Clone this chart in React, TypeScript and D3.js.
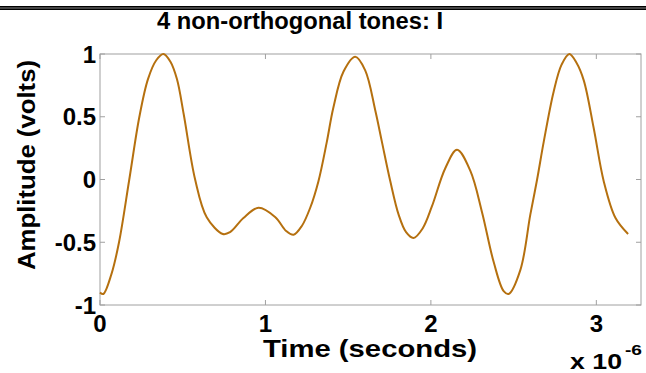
import { useEffect, useRef } from "react";
import * as d3 from "d3";

// time in microseconds, amplitude in volts
const TIME = [
    0, 0.02, 0.07, 0.115, 0.177, 0.238, 0.29, 0.34, 0.383, 0.425, 0.465, 0.506, 0.575, 0.645,
    0.742, 0.786, 0.867, 0.958, 1.06, 1.125, 1.17, 1.22, 1.27, 1.32, 1.371, 1.41, 1.472,
    1.543, 1.603, 1.664, 1.704, 1.754, 1.805, 1.85, 1.895, 1.95, 2.006, 2.087, 2.158,
    2.238, 2.309, 2.38, 2.44, 2.47, 2.541, 2.601, 2.642, 2.682, 2.742, 2.79, 2.837,
    2.88, 2.924, 2.984, 3.045, 3.116, 3.192,
];
const AMPLITUDE = [
    -0.9, -0.912, -0.75, -0.5, 0, 0.5, 0.8, 0.95, 1.0, 0.94, 0.8, 0.52, 0, -0.3,
    -0.434, -0.42, -0.307, -0.225, -0.3, -0.41, -0.44, -0.37, -0.227, -0.015, 0.3, 0.57, 0.86,
    0.978, 0.87, 0.55, 0.3, -0.01, -0.28, -0.42, -0.466, -0.39, -0.215, 0.09, 0.237,
    0.07, -0.26, -0.66, -0.89, -0.912, -0.72, -0.28, 0, 0.3, 0.7, 0.915, 1.0,
    0.93, 0.79, 0.41, -0.015, -0.307, -0.434,
];
const X_TICKS = [0, 1, 2, 3];
const Y_TICKS = [-1, -0.5, 0, 0.5, 1];

const W = 646;
const H = 373;
const FONT = "'Liberation Sans', Arial, Helvetica, sans-serif";

export default function App ()
{
    const svgRef = useRef<SVGSVGElement>( null );

    useEffect( () =>
    {
        if ( !svgRef.current ) return;
        const svg = d3.select( svgRef.current );
        svg.selectAll( "*" ).remove();

        const m = { top: 54, right: 5, bottom: 68, left: 100 };
        const w = W - m.left - m.right;
        const h = H - m.top - m.bottom;

        svg.append( "rect" ).attr( "width", W ).attr( "height", H ).attr( "fill", "#fff" );

        // Frame line at the very top
        svg.append( "line" ).attr( "x1", 0 ).attr( "x2", W ).attr( "y1", 8 ).attr( "y2", 8 )
            .attr( "stroke", "#000" ).attr( "stroke-width", 4 );
        svg.append( "line" ).attr( "x1", 0 ).attr( "x2", W ).attr( "y1", 8 ).attr( "y2", 8 )
            .attr( "stroke", "#888" ).attr( "stroke-width", 1 );

        const g = svg.append( "g" ).attr( "transform", `translate(${ m.left },${ m.top })` );

        const x = d3.scaleLinear().domain( [ 0, 3.27 ] ).range( [ 0, w ] );
        const y = d3.scaleLinear().domain( [ -1, 1 ] ).range( [ h, 0 ] );

        // Box
        g.append( "rect" ).attr( "width", w ).attr( "height", h ).attr( "fill", "none" )
            .attr( "stroke", "#a0a0a0" ).attr( "stroke-width", 1 );

        // Tick marks (inside, mirrored)
        const tk = 5;
        g.selectAll( ".xt" ).data( X_TICKS ).join( "path" )
            .attr( "d", ( d ) => `M${ x( d ) },${ h }v${ -tk }M${ x( d ) },0v${ tk }` )
            .attr( "stroke", "#a0a0a0" ).attr( "stroke-width", 1 );
        g.selectAll( ".yt" ).data( Y_TICKS ).join( "path" )
            .attr( "d", ( d ) => `M0,${ y( d ) }h${ tk }M${ w },${ y( d ) }h${ -tk }` )
            .attr( "stroke", "#a0a0a0" ).attr( "stroke-width", 1 );

        // Curve
        const pts = TIME.map( ( t, i ) => ( { t, v: AMPLITUDE[ i ] } ) );
        const line = d3.line<{ t: number; v: number }>()
            .x( ( d ) => x( d.t ) ).y( ( d ) => y( d.v ) ).curve( d3.curveCatmullRom.alpha( 0.5 ) );
        g.append( "path" ).datum( pts ).attr( "d", line ).attr( "fill", "none" )
            .attr( "stroke", "#b5700f" ).attr( "stroke-width", 2 );

        // Tick labels
        g.selectAll( ".xl" ).data( X_TICKS ).join( "text" )
            .attr( "x", ( d ) => x( d ) ).attr( "y", h + 27 ).attr( "text-anchor", "middle" )
            .text( ( d ) => String( d ) )
            .style( "font-family", FONT ).style( "font-size", "24px" ).style( "font-weight", "bold" );
        g.selectAll( ".yl" ).data( Y_TICKS ).join( "text" )
            .attr( "x", -4 ).attr( "y", ( d ) => y( d ) + 8.5 ).attr( "text-anchor", "end" )
            .text( ( d ) => String( d ) )
            .style( "font-family", FONT ).style( "font-size", "24px" ).style( "font-weight", "bold" );

        // Titles
        svg.append( "text" ).attr( "x", 157 ).attr( "y", 29 )
            .attr( "textLength", 286 ).attr( "lengthAdjust", "spacingAndGlyphs" )
            .text( "4 non-orthogonal tones: I" )
            .style( "font-family", FONT ).style( "font-size", "23px" ).style( "font-weight", "bold" );
        svg.append( "text" ).attr( "x", 263 ).attr( "y", 357 )
            .attr( "textLength", 214 ).attr( "lengthAdjust", "spacingAndGlyphs" )
            .text( "Time (seconds)" )
            .style( "font-family", FONT ).style( "font-size", "24px" ).style( "font-weight", "bold" );
        svg.append( "text" ).attr( "transform", `translate(35,270) rotate(-90)` )
            .attr( "textLength", 210 ).attr( "lengthAdjust", "spacingAndGlyphs" )
            .text( "Amplitude (volts)" )
            .style( "font-family", FONT ).style( "font-size", "24px" ).style( "font-weight", "bold" );

        // Exponent label
        svg.append( "text" ).attr( "x", 570 ).attr( "y", 369 )
            .attr( "textLength", 52 ).attr( "lengthAdjust", "spacingAndGlyphs" )
            .text( "x 10" )
            .style( "font-family", FONT ).style( "font-size", "22px" ).style( "font-weight", "bold" );
        svg.append( "text" ).attr( "x", 625 ).attr( "y", 355 )
            .attr( "textLength", 17 ).attr( "lengthAdjust", "spacingAndGlyphs" )
            .text( "-6" )
            .style( "font-family", FONT ).style( "font-size", "15px" ).style( "font-weight", "bold" );
    }, [] );

    return (
        <div style={ { position: "fixed", left: 0, top: 0, width: W, height: H } }>
            <svg ref={ svgRef } width={ W } height={ H } style={ { display: "block" } } />
        </div>
    );
}
